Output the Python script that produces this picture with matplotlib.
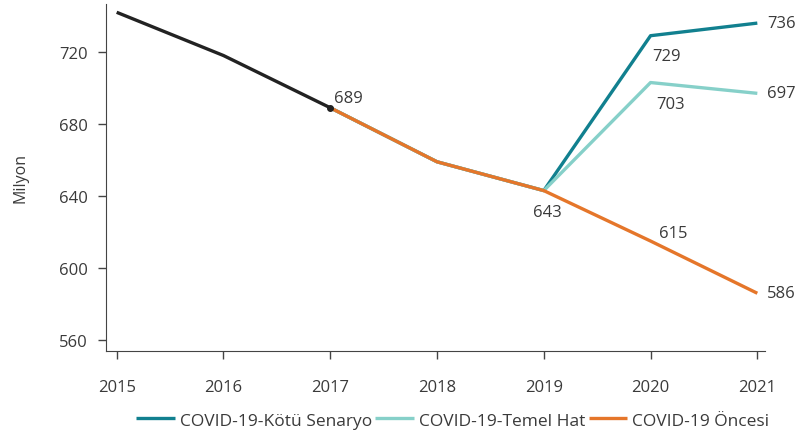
import numpy as np
import matplotlib.pyplot as plt

plt.rcParams['font.family'] = ['Open Sans', 'DejaVu Sans']

# yillar ve seriler
years_hist = [2015, 2016, 2017]
hist = [742, 718, 689]

years_proj = [2017, 2018, 2019, 2020, 2021]
kotu = [689, 659, 643, 729, 736]
temel = [689, 659, 643, 703, 697]
oncesi = [689, 659, 643, 615, 586]

c_kotu = '#11808f'
c_temel = '#86d0c9'
c_oncesi = '#e5762a'
c_text = '#3a3a3a'

fig = plt.figure(figsize=(8, 4.39), dpi=100)
ax = fig.add_axes([0.1325, 0.198, 0.8235, 0.791])

ax.plot(years_proj, kotu, color=c_kotu, lw=2.4, label='COVID-19-Kötü Senaryo', solid_capstyle='butt')
ax.plot(years_proj, temel, color=c_temel, lw=2.4, label='COVID-19-Temel Hat', solid_capstyle='butt')
ax.plot(years_proj, oncesi, color=c_oncesi, lw=2.4, label='COVID-19 Öncesi', solid_capstyle='butt')
ax.plot(years_hist, hist, color='#222222', lw=2.4, solid_capstyle='butt')
ax.plot(years_hist[-1], hist[-1], 'o', color='#222222', ms=4)

# deger etiketleri
fs = 12
ax.annotate(str(hist[-1]), (2017, hist[-1]), xytext=(3, 1), textcoords='offset points',
            fontsize=fs, color=c_text, ha='left', va='bottom')
ax.annotate(str(oncesi[2]), (2019, oncesi[2]), xytext=(-8, -10), textcoords='offset points',
            fontsize=fs, color=c_text, ha='left', va='top')
ax.annotate(str(kotu[3]), (2020, kotu[3]), xytext=(1, -9), textcoords='offset points',
            fontsize=fs, color=c_text, ha='left', va='top')
ax.annotate(str(temel[3]), (2020, temel[3]), xytext=(4, -10), textcoords='offset points',
            fontsize=fs, color=c_text, ha='left', va='top')
ax.annotate(str(oncesi[3]), (2020, oncesi[3]), xytext=(6, 6), textcoords='offset points',
            fontsize=fs, color=c_text, ha='left', va='center')
for vals in (kotu, temel, oncesi):
    ax.annotate(str(vals[-1]), (2021, vals[-1]), xytext=(7, 0), textcoords='offset points',
                fontsize=fs, color=c_text, ha='left', va='center')

ax.set_xlim(2014.9, 2021.07)
ax.set_ylim(553.9, 746.7)
ax.set_xticks([2015, 2016, 2017, 2018, 2019, 2020, 2021])
ax.set_yticks([560, 600, 640, 680, 720])
ax.tick_params(colors='#444444', labelsize=12, labelcolor=c_text, length=6, width=1)
ax.tick_params(axis='x', pad=14)
ax.tick_params(axis='y', pad=7)
for s in ['top', 'right']:
    ax.spines[s].set_visible(False)
for s in ['left', 'bottom']:
    ax.spines[s].set_color('#444444')
ax.set_ylabel('Milyon', fontsize=11.5, color=c_text, labelpad=22)

fig.legend(loc='center', bbox_to_anchor=(0.566, 0.04), ncol=3, frameon=False,
           fontsize=12.5, handlelength=2.2, handletextpad=0.3, columnspacing=0.2,
           labelcolor=c_text)

fig.savefig('out.png', dpi=100)
